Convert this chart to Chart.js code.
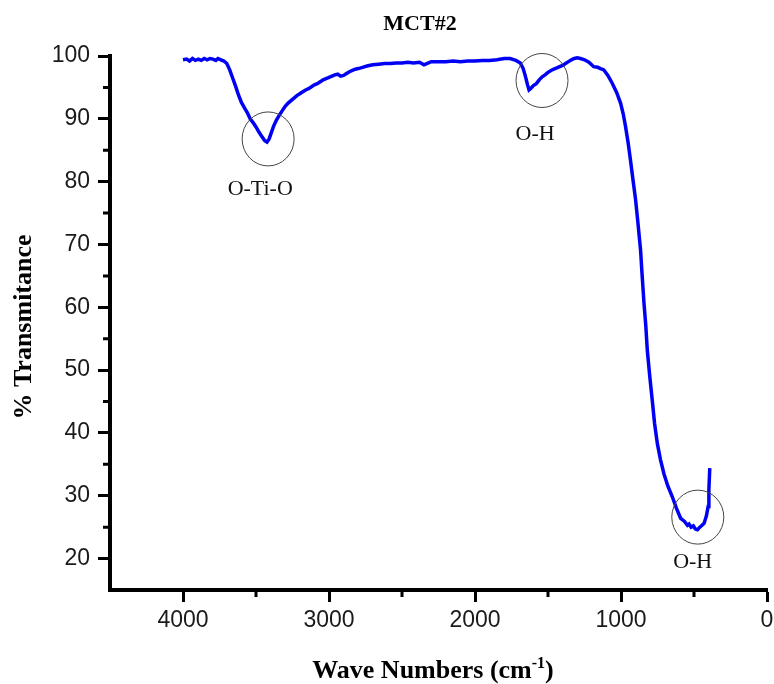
<!DOCTYPE html>
<html>
<head>
<meta charset="utf-8">
<title>MCT#2</title>
<script src="https://cdn.jsdelivr.net/npm/chart.js@4.4.1/dist/chart.umd.min.js"></script>
<style>
    html, body { margin: 0; padding: 0; background: #fff; }
    #wrap { width: 774px; height: 684px; }
</style>
</head>
<body>
<div id="wrap"><canvas id="ftirChart" width="774" height="684"></canvas></div>
<script>
// FTIR spectrum of sample MCT#2.
const waveNumbers = [
    4000, 3975, 3955, 3935, 3915, 3895, 3875, 3855, 3835, 3815, 3795, 3775, 3760, 3740, 3720,
    3700, 3680, 3660, 3640, 3620, 3600, 3580, 3560, 3540, 3520, 3500, 3480, 3460, 3440, 3425,
    3410, 3395, 3380, 3360, 3340, 3320, 3300, 3280, 3260, 3240, 3220, 3200, 3180, 3160, 3140,
    3120, 3100, 3080, 3060, 3040, 3020, 3000, 2980, 2960, 2940, 2920, 2900, 2880, 2860, 2840,
    2820, 2800, 2770, 2740, 2700, 2660, 2620, 2580, 2540, 2500, 2460, 2420, 2380, 2350, 2330,
    2300, 2260, 2200, 2150, 2100, 2050, 2000, 1950, 1900, 1850, 1800, 1760, 1720, 1690, 1670,
    1655, 1640, 1630, 1620, 1600, 1580, 1560, 1540, 1520, 1500, 1480, 1460, 1440, 1420, 1400,
    1380, 1360, 1340, 1320, 1300, 1278, 1250, 1220, 1187, 1160, 1140, 1118, 1090, 1061, 1030,
    1003, 985, 969, 950, 935, 918, 900, 883, 866, 855, 843, 830, 820, 803, 786,
    770, 751, 730, 706, 680, 648, 620, 591, 565, 545, 534, 520, 505, 490, 476,
    460, 445, 431, 415, 403, 398, 392
];
const transmittance = [
    99.4, 99.5, 99.2, 99.6, 99.3, 99.5, 99.3, 99.6, 99.4, 99.6, 99.5, 99.3, 99.6, 99.4, 99.2,
    98.8, 97.8, 96.5, 95.2, 93.8, 92.6, 91.8, 91.0, 90.0, 89.4, 88.7, 87.9, 87.2, 86.5, 86.3,
    86.8, 87.8, 88.8, 89.8, 90.6, 91.3, 92.0, 92.5, 92.9, 93.3, 93.7, 94.0, 94.3, 94.6, 94.8,
    95.1, 95.4, 95.6, 95.9, 96.2, 96.4, 96.6, 96.8, 97.0, 97.1, 96.8, 96.9, 97.2, 97.5, 97.7,
    97.9, 98.0, 98.2, 98.4, 98.6, 98.7, 98.8, 98.8, 98.9, 98.9, 99.0, 98.9, 99.0, 98.6, 98.8,
    99.1, 99.1, 99.1, 99.2, 99.1, 99.2, 99.2, 99.3, 99.3, 99.4, 99.6, 99.6, 99.3, 98.9, 98.0,
    96.8, 95.4, 94.6, 94.8, 95.3, 95.6, 96.2, 96.7, 97.0, 97.4, 97.7, 97.9, 98.1, 98.3, 98.5,
    98.8, 99.1, 99.4, 99.6, 99.7, 99.6, 99.4, 99.0, 98.3, 98.2, 98.0, 97.8, 96.9, 95.7, 94.2,
    92.5, 90.8, 88.8, 86.0, 83.4, 80.3, 77.1, 73.2, 69.1, 65.0, 60.8, 57.0, 53.2, 49.0, 45.2,
    41.5, 38.3, 35.8, 33.5, 31.6, 29.8, 28.0, 26.4, 25.9, 25.3, 25.5, 25.0, 25.2, 24.7, 24.6,
    25.0, 25.3, 25.6, 26.8, 28.3, 31.0, 34.4
];

const xMajorTicks = [4000, 3000, 2000, 1000, 0];
const xMinorTicks = [3500, 2500, 1500, 500];
const yMajorTicks = [20, 30, 40, 50, 60, 70, 80, 90, 100];
const yMinorTicks = [25, 35, 45, 55, 65, 75, 85, 95];

// Marked bands: circle centre and label anchor, in data units.
const bandLabels = ['O-Ti-O', 'O-H', 'O-H'];
const bandCircleX = [3417, 1541, 474];
const bandCircleY = [86.8, 96.1, 26.6];
const bandLabelX = [3471, 1588, 509];
const bandLabelY = [78.8, 87.6, 19.45];

const SERIF = '"Liberation Serif", "Times New Roman", serif';
const SANS = '"Liberation Sans", Arial, sans-serif';

// Minor ticks, band circles, labels and titles drawn on top of the chart.
const overlayPlugin = {
    id: 'overlay',
    afterDraw(chart) {
        const { ctx, scales: { x, y } } = chart;
        const area = chart.chartArea;
        ctx.save();

        ctx.strokeStyle = '#000';
        ctx.lineWidth = 3;
        ctx.beginPath();
        xMinorTicks.forEach(v => {
            const px = x.getPixelForValue(v);
            ctx.moveTo(px, area.bottom);
            ctx.lineTo(px, area.bottom + 7);
        });
        yMinorTicks.forEach(v => {
            const py = y.getPixelForValue(v);
            ctx.moveTo(area.left, py);
            ctx.lineTo(area.left - 7, py);
        });
        ctx.stroke();

        ctx.strokeStyle = '#444';
        ctx.lineWidth = 1;
        bandLabels.forEach((label, i) => {
            const cx = x.getPixelForValue(bandCircleX[i]);
            const cy = y.getPixelForValue(bandCircleY[i]);
            ctx.beginPath();
            ctx.ellipse(cx, cy, 26, 27, 0, 0, Math.PI * 2);
            ctx.stroke();
        });

        ctx.fillStyle = '#111';
        ctx.font = `22px ${SERIF}`;
        ctx.textAlign = 'center';
        ctx.textBaseline = 'middle';
        bandLabels.forEach((label, i) => {
            ctx.fillText(label, x.getPixelForValue(bandLabelX[i]), y.getPixelForValue(bandLabelY[i]));
        });

        // chart title
        ctx.fillStyle = '#000';
        ctx.font = `bold 22px ${SERIF}`;
        ctx.textBaseline = 'alphabetic';
        ctx.fillText('MCT#2', 420, 30);

        // x axis title with superscript
        const mainFont = `bold 26px ${SERIF}`;
        const supFont = `bold 16px ${SERIF}`;
        ctx.font = mainFont;
        const partA = 'Wave Numbers (cm';
        const wA = ctx.measureText(partA).width;
        const wC = ctx.measureText(')').width;
        ctx.font = supFont;
        const wB = ctx.measureText('-1').width;
        let sx = 433 - (wA + wB + wC) / 2;
        const base = 678;
        ctx.textAlign = 'left';
        ctx.font = mainFont;
        ctx.fillText(partA, sx, base);
        sx += wA;
        ctx.font = supFont;
        ctx.fillText('-1', sx, base - 10);
        sx += wB;
        ctx.font = mainFont;
        ctx.fillText(')', sx, base);

        // y axis title
        ctx.translate(31, 327);
        ctx.rotate(-Math.PI / 2);
        ctx.textAlign = 'center';
        ctx.font = `bold 26px ${SERIF}`;
        ctx.fillText('% Transmitance', 0, 0);

        ctx.restore();
    }
};

new Chart(document.getElementById('ftirChart').getContext('2d'), {
    type: 'line',
    data: {
        datasets: [{
            data: waveNumbers.map((w, i) => ({ x: w, y: transmittance[i] })),
            borderColor: '#0000f5',
            borderWidth: 3.5,
            pointRadius: 0,
            tension: 0,
            fill: false
        }]
    },
    options: {
        responsive: false,
        animation: false,
        layout: { padding: { top: 56, right: 7, left: 0, bottom: 0 } },
        plugins: { legend: { display: false }, tooltip: { enabled: false }, title: { display: false } },
        scales: {
            x: {
                type: 'linear', min: 0, max: 4500, reverse: true,
                afterBuildTicks: s => { s.ticks = xMajorTicks.map(v => ({ value: v })); },
                afterFit: s => { s.height = 94; s.paddingRight = 0; s.paddingLeft = 0; },
                grid: { drawOnChartArea: false, drawTicks: true, tickLength: 12, tickWidth: 3, tickColor: '#000' },
                border: { display: true, color: '#000', width: 4 },
                ticks: { font: { family: SANS, size: 23 }, color: '#1a1a1a', padding: 5, maxRotation: 0, autoSkip: false,
                         callback: v => String(v) }
            },
            y: {
                type: 'linear', min: 15, max: 100,
                afterBuildTicks: s => { s.ticks = yMajorTicks.map(v => ({ value: v })); },
                afterFit: s => { s.width = 110; s.paddingTop = 0; s.paddingBottom = 0; },
                grid: { drawOnChartArea: false, drawTicks: true, tickLength: 12, tickWidth: 3, tickColor: '#000' },
                border: { display: true, color: '#000', width: 4 },
                ticks: { font: { family: SANS, size: 23 }, color: '#1a1a1a', padding: 8, autoSkip: false,
                         callback: v => String(v) }
            }
        }
    },
    plugins: [overlayPlugin]
});
</script>
</body>
</html>
